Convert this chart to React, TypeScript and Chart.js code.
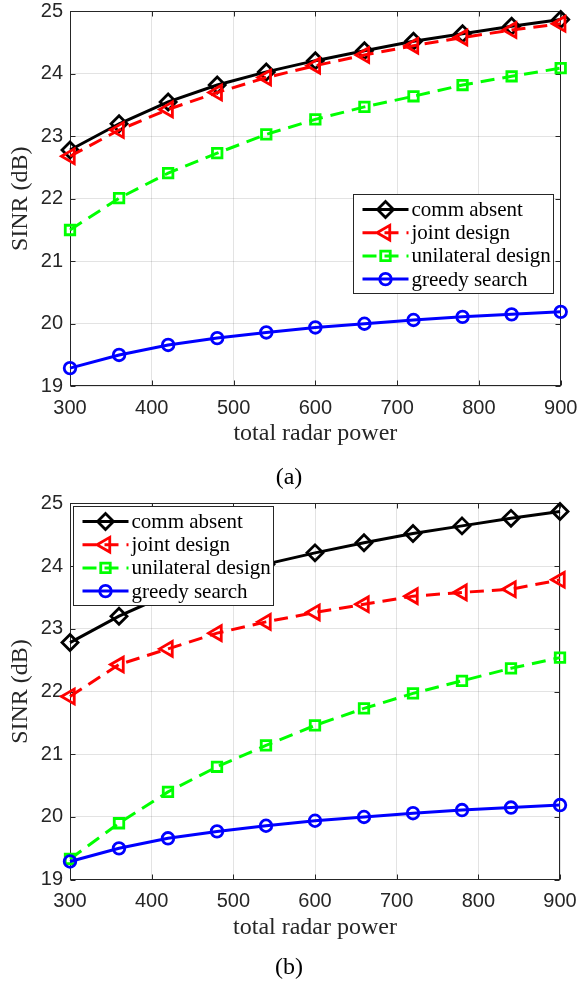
import React, { useEffect, useRef } from 'react';
import { Chart, registerables } from 'chart.js';

Chart.register(...registerables);

// ---------- data ----------
const powers = [300, 360, 420, 480, 540, 600, 660, 720, 780, 840, 900];
const commAbsent = [22.78, 23.2, 23.55, 23.82, 24.03, 24.21, 24.37, 24.52, 24.64, 24.76, 24.87];
const jointA = [22.68, 23.1, 23.43, 23.7, 23.94, 24.13, 24.3, 24.45, 24.58, 24.7, 24.8];
const unilateralA = [21.5, 22.01, 22.41, 22.73, 23.03, 23.27, 23.47, 23.64, 23.82, 23.96, 24.09];
const greedy = [19.29, 19.5, 19.66, 19.77, 19.86, 19.94, 20.0, 20.06, 20.11, 20.15, 20.19];
const jointB = [21.92, 22.43, 22.68, 22.93, 23.11, 23.26, 23.39, 23.52, 23.58, 23.63, 23.78];
const unilateralB = [19.33, 19.9, 20.4, 20.8, 21.14, 21.46, 21.73, 21.97, 22.17, 22.37, 22.54];

const seriesLabels = ['comm absent', 'joint design', 'unilateral design', 'greedy search'];
const xTitle = 'total radar power';
const yTitle = 'SINR (dB)';
const xMin = 300, xMax = 900, xStep = 100;
const yMin = 19, yMax = 25, yStep = 1;

// ---------- styles ----------
const AXIS = '#262626';
const GRID = 'rgba(38,38,38,0.13)';
const SERIF = '"Liberation Serif", "Times New Roman", serif';
const SANS = '"Liberation Sans", Arial, sans-serif';

type Style = { color: string; dash: number[]; point: string; radius: number; rotation: number };
const styles: Style[] = [
  { color: '#000000', dash: [], point: 'rectRot', radius: 8, rotation: 0 },
  { color: '#ff0000', dash: [14, 8], point: 'triangle', radius: 8.5, rotation: -90 },
  { color: '#00ff00', dash: [14, 8], point: 'rect', radius: 6.7, rotation: 0 },
  { color: '#0000ff', dash: [], point: 'circle', radius: 5.8, rotation: 0 },
];

function makeDatasets(values: number[][]) {
  return values.map((vals, i) => {
    const s = styles[i];
    return {
      label: seriesLabels[i],
      data: vals.map((v, j) => ({ x: powers[j], y: v })),
      borderColor: s.color,
      borderWidth: 3,
      borderDash: s.dash,
      pointStyle: s.point,
      pointRadius: s.radius,
      pointRotation: s.rotation,
      pointBorderColor: s.color,
      pointBackgroundColor: 'rgba(0,0,0,0)',
      pointBorderWidth: 2.8,
      pointHoverRadius: s.radius,
      fill: false,
      tension: 0,
      clip: false as any,
    };
  }).reverse();
}

function drawMarker(ctx: CanvasRenderingContext2D, style: string, x: number, y: number, r: number, rot: number) {
  ctx.beginPath();
  let rad = (rot * Math.PI) / 180;
  if (style === 'circle') {
    ctx.arc(x, y, r, 0, Math.PI * 2);
  } else if (style === 'rect') {
    const s = Math.SQRT1_2 * r;
    ctx.rect(x - s, y - s, 2 * s, 2 * s);
  } else if (style === 'rectRot') {
    ctx.moveTo(x - r, y);
    ctx.lineTo(x, y - r);
    ctx.lineTo(x + r, y);
    ctx.lineTo(x, y + r);
    ctx.closePath();
  } else if (style === 'triangle') {
    ctx.moveTo(x + Math.sin(rad) * r, y - Math.cos(rad) * r);
    rad += (2 * Math.PI) / 3;
    ctx.lineTo(x + Math.sin(rad) * r, y - Math.cos(rad) * r);
    rad += (2 * Math.PI) / 3;
    ctx.lineTo(x + Math.sin(rad) * r, y - Math.cos(rad) * r);
    ctx.closePath();
  }
  ctx.stroke();
}

const boxPlugin = {
  id: 'matlabBox',
  beforeDatasetsDraw(chart: any) {
    const { ctx, chartArea: a, scales } = chart;
    const L = Math.round(a.left) + 0.5, R = Math.round(a.right) - 0.5;
    const T = Math.round(a.top) + 0.5, B = Math.round(a.bottom) - 0.5;
    ctx.save();
    ctx.strokeStyle = AXIS;
    ctx.lineWidth = 1;
    ctx.setLineDash([]);
    ctx.strokeRect(L, T, R - L, B - T);
    const TL = 5;
    ctx.beginPath();
    scales.x.ticks.forEach((t: any) => {
      const px = Math.round(scales.x.getPixelForValue(t.value)) + 0.5;
      ctx.moveTo(px, B); ctx.lineTo(px, B - TL);
      ctx.moveTo(px, T); ctx.lineTo(px, T + TL);
    });
    scales.y.ticks.forEach((t: any) => {
      const py = Math.round(scales.y.getPixelForValue(t.value)) + 0.5;
      ctx.moveTo(L, py); ctx.lineTo(L + TL, py);
      ctx.moveTo(R, py); ctx.lineTo(R - TL, py);
    });
    ctx.stroke();
    ctx.restore();
  },
};

const legendPlugin = {
  id: 'matlabLegend',
  afterDatasetsDraw(chart: any, _args: any, opts: any) {
    const { ctx, chartArea: a } = chart;
    const bx = Math.round(a.left + opts.dx) + 0.5;
    const by = Math.round(a.top + opts.dy) + 0.5;
    const w = 200, h = 99;
    ctx.save();
    ctx.fillStyle = '#ffffff';
    ctx.fillRect(bx, by, w, h);
    ctx.strokeStyle = AXIS;
    ctx.lineWidth = 1;
    ctx.setLineDash([]);
    ctx.strokeRect(bx, by, w, h);
    ctx.font = `21px ${SERIF}`;
    ctx.textBaseline = 'middle';
    ctx.textAlign = 'left';
    seriesLabels.forEach((label, i) => {
      const s = styles[i];
      const cy = by + 15 + i * 23.2;
      ctx.strokeStyle = s.color;
      ctx.lineWidth = 3;
      ctx.setLineDash(s.dash);
      ctx.beginPath();
      ctx.moveTo(bx + 9, cy);
      ctx.lineTo(bx + 55, cy);
      ctx.stroke();
      ctx.setLineDash([]);
      ctx.lineWidth = 2.8;
      drawMarker(ctx, s.point, bx + 32, cy, s.radius, s.rotation);
      ctx.fillStyle = '#000000';
      ctx.fillText(label, bx + 58, cy + 1);
    });
    ctx.restore();
  },
};

type PanelProps = {
  values: number[][];
  height: number;
  padTop: number;
  padRight: number;
  padBottom: number;
  legendDx: number;
  legendDy: number;
};

function Panel({ values, height, padTop, padRight, padBottom, legendDx, legendDy }: PanelProps) {
  const ref = useRef<HTMLCanvasElement | null>(null);
  useEffect(() => {
    if (!ref.current) return;
    const chart = new Chart(ref.current, {
      type: 'line',
      data: { datasets: makeDatasets(values) as any },
      plugins: [boxPlugin, legendPlugin],
      options: {
        animation: false,
        responsive: false,
        devicePixelRatio: 1,
        layout: { padding: { top: padTop, right: padRight, bottom: padBottom, left: 0 } },
        plugins: {
          legend: { display: false },
          tooltip: { enabled: false },
          matlabLegend: { dx: legendDx, dy: legendDy },
        } as any,
        scales: {
          x: {
            type: 'linear',
            min: xMin,
            max: xMax,
            afterFit: (scale: any) => { scale.paddingLeft = 0; scale.paddingRight = 0; },
            ticks: {
              stepSize: xStep,
              padding: 10,
              color: AXIS,
              font: { family: SANS, size: 20 },
              maxRotation: 0,
              autoSkip: false,
            },
            grid: { color: GRID, drawTicks: false, lineWidth: 1 },
            border: { display: false },
            title: {
              display: true,
              text: xTitle,
              color: AXIS,
              font: { family: SERIF, size: 24 },
              padding: { top: -10.5, bottom: 0 },
            },
          },
          y: {
            type: 'linear',
            min: yMin,
            max: yMax,
            afterFit: (scale: any) => { scale.width = 70; scale.paddingTop = 0; scale.paddingBottom = 0; },
            ticks: {
              stepSize: yStep,
              padding: 7,
              color: AXIS,
              font: { family: SANS, size: 20 },
            },
            grid: { color: GRID, drawTicks: false, lineWidth: 1 },
            border: { display: false },
            title: {
              display: true,
              text: yTitle,
              color: AXIS,
              font: { family: SERIF, size: 24 },
              padding: { top: 6, bottom: 0 },
            },
          },
        },
      },
    });
    return () => chart.destroy();
  }, []);
  return <canvas ref={ref} width={578} height={height} style={{ display: 'block' }} />;
}

const captionStyle: React.CSSProperties = {
  position: 'absolute',
  left: 0,
  width: 578,
  textAlign: 'center',
  fontFamily: SERIF,
  fontSize: 24,
  lineHeight: '28px',
  color: '#000',
};

export default function App() {
  return (
    <div style={{ position: 'absolute', left: 0, top: 0, width: 578, height: 985, background: '#fff', overflow: 'hidden' }}>
      <div style={{ position: 'absolute', left: 0, top: 0 }}>
        <Panel
          values={[commAbsent, jointA, unilateralA, greedy]}
          height={490}
          padTop={11}
          padRight={17.3}
          padBottom={41.5}
          legendDx={282.6}
          legendDy={182.3}
        />
      </div>
      <div style={{ ...captionStyle, top: 462 }}>(a)</div>
      <div style={{ position: 'absolute', left: 0, top: 490 }}>
        <Panel
          values={[commAbsent, jointB, unilateralB, greedy]}
          height={495}
          padTop={13.3}
          padRight={18}
          padBottom={43}
          legendDx={2.6}
          legendDy={2.7}
        />
      </div>
      <div style={{ ...captionStyle, top: 952 }}>(b)</div>
    </div>
  );
}
